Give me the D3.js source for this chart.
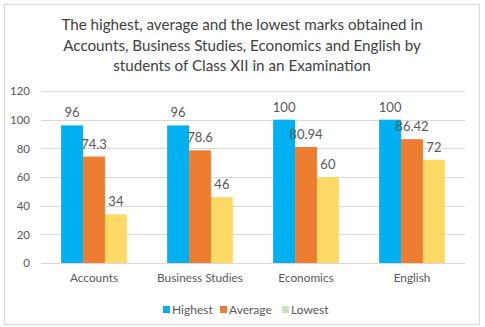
<!DOCTYPE html>
<html><head><meta charset="utf-8">
<script src="https://cdn.jsdelivr.net/npm/d3@7"></script>
<style>
html,body{margin:0;padding:0;background:#fff;}
svg{display:block;font-family:Lato,"Open Sans",sans-serif;}
</style></head>
<body>
<svg id="chart" width="485" height="327"></svg>
<script>
const categories = ["Accounts", "Business Studies", "Economics", "English"];
const seriesNames = ["Highest", "Average", "Lowest"];
const highest = [96, 96, 100, 100];
const average = [74.3, 78.6, 80.94, 86.42];
const lowest = [34, 46, 60, 72];
const yTicks = [0, 20, 40, 60, 80, 100, 120];
const titleLines = [
  "The highest, average and the lowest marks obtained in",
  "Accounts, Business Studies, Economics and English by",
  "students of Class XII in an Examination"
];
const barColors = ["#00B0F0", "#ED7D31", "#FFD966"];
const legendColors = ["#00B0F0", "#ED7D31", "#C9E2B8"];

const series = [highest, average, lowest];
const svg = d3.select("#chart");

// border
svg.append("rect").attr("x", 4.5).attr("y", 4.5).attr("width", 475).attr("height", 320)
  .attr("fill", "#fff").attr("stroke", "#d9d9d9").attr("stroke-width", 1);

// title
svg.append("g").selectAll("text").data(titleLines).join("text")
  .attr("x", 242).attr("y", (d, i) => 30 + i * 20.5)
  .attr("text-anchor", "middle").attr("fill", "#404040")
  .attr("font-size", 15.2).text(d => d);

const x0 = d3.scaleBand().domain(categories).range([41, 465]).paddingInner(0.38).paddingOuter(0.19);
const x1 = d3.scaleBand().domain(seriesNames).range([0, x0.bandwidth()]);
const y = d3.scaleLinear().domain([0, 120]).range([263, 91]);

// gridlines
svg.append("g").selectAll("line").data(yTicks).join("line")
  .attr("x1", 41).attr("x2", 465)
  .attr("y1", d => Math.round(y(d)) + 0.5).attr("y2", d => Math.round(y(d)) + 0.5)
  .attr("stroke", "#d9d9d9").attr("stroke-width", 1);

// y axis labels
const yAxis = d3.axisLeft(y).tickValues(yTicks).tickSize(0).tickPadding(0);
const ya = svg.append("g").attr("transform", "translate(30,0)").call(yAxis);
ya.select(".domain").remove();
ya.selectAll("text").attr("fill", "#595959").attr("font-size", 11.5).attr("font-family", "Lato,sans-serif");

// bars
const groups = svg.append("g").selectAll("g").data(categories).join("g")
  .attr("transform", d => `translate(${x0(d)},0)`);
groups.selectAll("rect").data((c, ci) => seriesNames.map((s, si) => ({s, si, v: series[si][ci]})))
  .join("rect")
  .attr("x", d => x1(d.s)).attr("width", x1.bandwidth())
  .attr("y", d => y(d.v)).attr("height", d => y(0) - y(d.v))
  .attr("fill", d => barColors[d.si]);
groups.selectAll("text").data((c, ci) => seriesNames.map((s, si) => ({s, si, v: series[si][ci]})))
  .join("text")
  .attr("x", d => x1(d.s) + x1.bandwidth() / 2)
  .attr("y", d => y(d.v) - 8)
  .attr("text-anchor", "middle").attr("fill", "#595959").attr("font-size", 13)
  .text(d => d.v);

// x axis labels
const xAxis = d3.axisBottom(x0).tickSize(0).tickPadding(0);
const xa = svg.append("g").attr("transform", "translate(0,274)").call(xAxis);
xa.select(".domain").remove();
xa.selectAll("text").attr("fill", "#595959").attr("font-size", 11.8).attr("font-family", "Lato,sans-serif");

// legend
const legendX = [163, 220, 282];
const lg = svg.append("g").selectAll("g").data(seriesNames).join("g")
  .attr("transform", (d, i) => `translate(${legendX[i]},306)`);
lg.append("rect").attr("width", 7).attr("height", 7).attr("fill", (d, i) => legendColors[i]);
lg.append("text").attr("x", 9).attr("y", 8).attr("fill", "#595959").attr("font-size", 12).text(d => d);
</script>
</body></html>
